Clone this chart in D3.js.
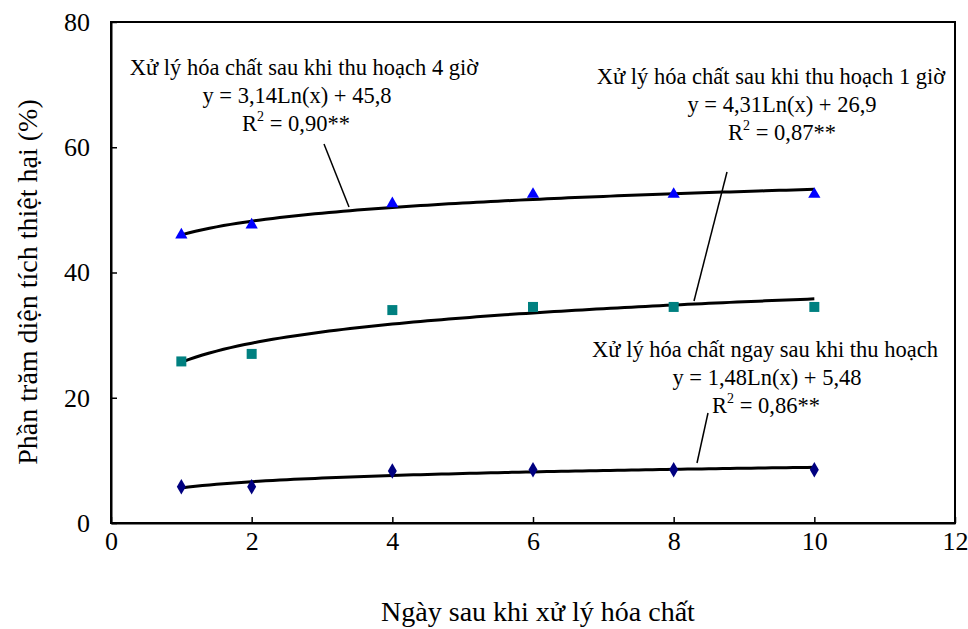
<!DOCTYPE html>
<html>
<head>
<meta charset="utf-8">
<script src="https://cdn.jsdelivr.net/npm/d3@7"></script>
<style>
  body { margin: 0; background: #fff; }
  svg text { font-family: "Liberation Serif", "Times New Roman", serif; fill: #000; }
</style>
</head>
<body>
<div id="chart"></div>
<script>
// data
var days = [1, 2, 4, 6, 8, 10];
var after4h = [46.0, 47.6, 51.0, 52.5, 52.5, 52.5];
var after1h = [25.8, 27.0, 34.0, 34.5, 34.5, 34.5];
var immediate = [5.8, 5.8, 8.3, 8.5, 8.5, 8.5];
var xTicks = [0, 2, 4, 6, 8, 10, 12];
var yTicks = [0, 20, 40, 60, 80];

var labels4h = ["Xử lý hóa chất sau khi thu hoạch 4 giờ", "y = 3,14Ln(x) + 45,8", "0,90**"];
var labels1h = ["Xử lý hóa chất sau khi thu hoạch 1 giờ", "y = 4,31Ln(x) + 26,9", "0,87**"];
var labelsNow = ["Xử lý hóa chất ngay sau khi thu hoạch", "y = 1,48Ln(x) + 5,48", "0,86**"];

var svgWidth = 968, svgHeight = 629;
var margin = { top: 22, right: 13, bottom: 106, left: 111 };
var width = svgWidth - margin.left - margin.right;
var height = svgHeight - margin.top - margin.bottom;

var svg = d3.select("#chart").append("svg")
    .attr("width", svgWidth)
    .attr("height", svgHeight);

var chartGroup = svg.append("g")
    .attr("transform", `translate(${margin.left}, ${margin.top})`);

var xScale = d3.scaleLinear().domain([0, 12]).range([0, width]);
var yScale = d3.scaleLinear().domain([0, 80]).range([height, 0]);

// frame
chartGroup.append("rect")
    .attr("width", width).attr("height", height)
    .attr("fill", "none").attr("stroke", "#000").attr("stroke-width", 2);

// axes, ticks pointing inwards
var xAxis = d3.axisBottom(xScale).tickValues(xTicks).tickSizeInner(-6).tickSizeOuter(0).tickPadding(9);
var yAxis = d3.axisLeft(yScale).tickValues(yTicks).tickSizeInner(-6).tickSizeOuter(0).tickPadding(21);

var gx = chartGroup.append("g").attr("transform", `translate(0,${height})`).call(xAxis);
var gy = chartGroup.append("g").call(yAxis);
[gx, gy].forEach(function (g) {
    g.select(".domain").attr("stroke", "#000").attr("stroke-width", 2);
    g.selectAll(".tick line").attr("stroke", "#000").attr("stroke-width", 1.5);
    g.selectAll(".tick text").attr("font-size", 26).attr("font-family", "Liberation Serif");
});
gx.selectAll(".tick text").attr("dy", "0.71em");

// log fit from the points
function logFit(xs, ys) {
    var lx = xs.map(Math.log);
    var mx = d3.mean(lx), my = d3.mean(ys);
    var sxy = d3.sum(lx, (v, i) => (v - mx) * (ys[i] - my));
    var sxx = d3.sum(lx, v => (v - mx) * (v - mx));
    var a = sxy / sxx;
    return { a: a, b: my - a * mx };
}

var series = [
    { values: after4h, shape: d3.symbolTriangle, size: 65, color: "#0000FF" },
    { values: after1h, shape: d3.symbolSquare, size: 100, color: "#008080" },
    { values: immediate, shape: d3.symbolDiamond, size: 70, color: "#000080" }
];

var line = d3.line().x(d => xScale(d[0])).y(d => yScale(d[1]));

series.forEach(function (s) {
    var fit = logFit(days, s.values);
    var pts = d3.range(1, 10.001, 0.1).map(x => [x, fit.a * Math.log(x) + fit.b]);
    chartGroup.append("path")
        .attr("d", line(pts))
        .attr("fill", "none")
        .attr("stroke", "#000")
        .attr("stroke-width", 3);
});

series.forEach(function (s) {
    chartGroup.selectAll(null)
        .data(days)
        .enter()
        .append("path")
        .attr("d", d3.symbol().type(s.shape).size(s.size))
        .attr("transform", (d, i) => `translate(${xScale(d)},${yScale(s.values[i])})`)
        .attr("fill", s.color);
});

// annotation blocks
function annotate(lines, cx1, y1, cx2, cx3, lead) {
    svg.append("text").attr("x", cx1).attr("y", y1).attr("text-anchor", "middle")
        .attr("font-size", 22.5).text(lines[0]);
    svg.append("text").attr("x", cx2).attr("y", y1 + 28).attr("text-anchor", "middle")
        .attr("font-size", 22.5).text(lines[1]);
    var r = svg.append("text").attr("x", cx3).attr("y", y1 + 56).attr("text-anchor", "middle")
        .attr("font-size", 22.5);
    r.append("tspan").text("R");
    r.append("tspan").attr("font-size", 14).attr("dy", -10).text("2");
    r.append("tspan").attr("dy", 10).text(" = " + lines[2]);
    svg.append("line")
        .attr("x1", lead[0]).attr("y1", lead[1]).attr("x2", lead[2]).attr("y2", lead[3])
        .attr("stroke", "#000").attr("stroke-width", 1.5);
}

annotate(labels4h, 304, 75, 297, 296, [324, 144, 349, 207]);
annotate(labels1h, 771, 84, 782, 782, [727, 172, 694, 301]);
annotate(labelsNow, 765, 357, 767, 766, [708, 413, 697, 463]);

// axis titles
svg.append("text")
    .attr("x", 538).attr("y", 621)
    .attr("text-anchor", "middle")
    .attr("font-size", 28)
    .text("Ngày sau khi xử lý hóa chất");

svg.append("text")
    .attr("transform", "translate(37,282) rotate(-90)")
    .attr("text-anchor", "middle")
    .attr("font-size", 28)
    .text("Phần trăm diện tích thiệt hại (%)");
</script>
</body>
</html>
